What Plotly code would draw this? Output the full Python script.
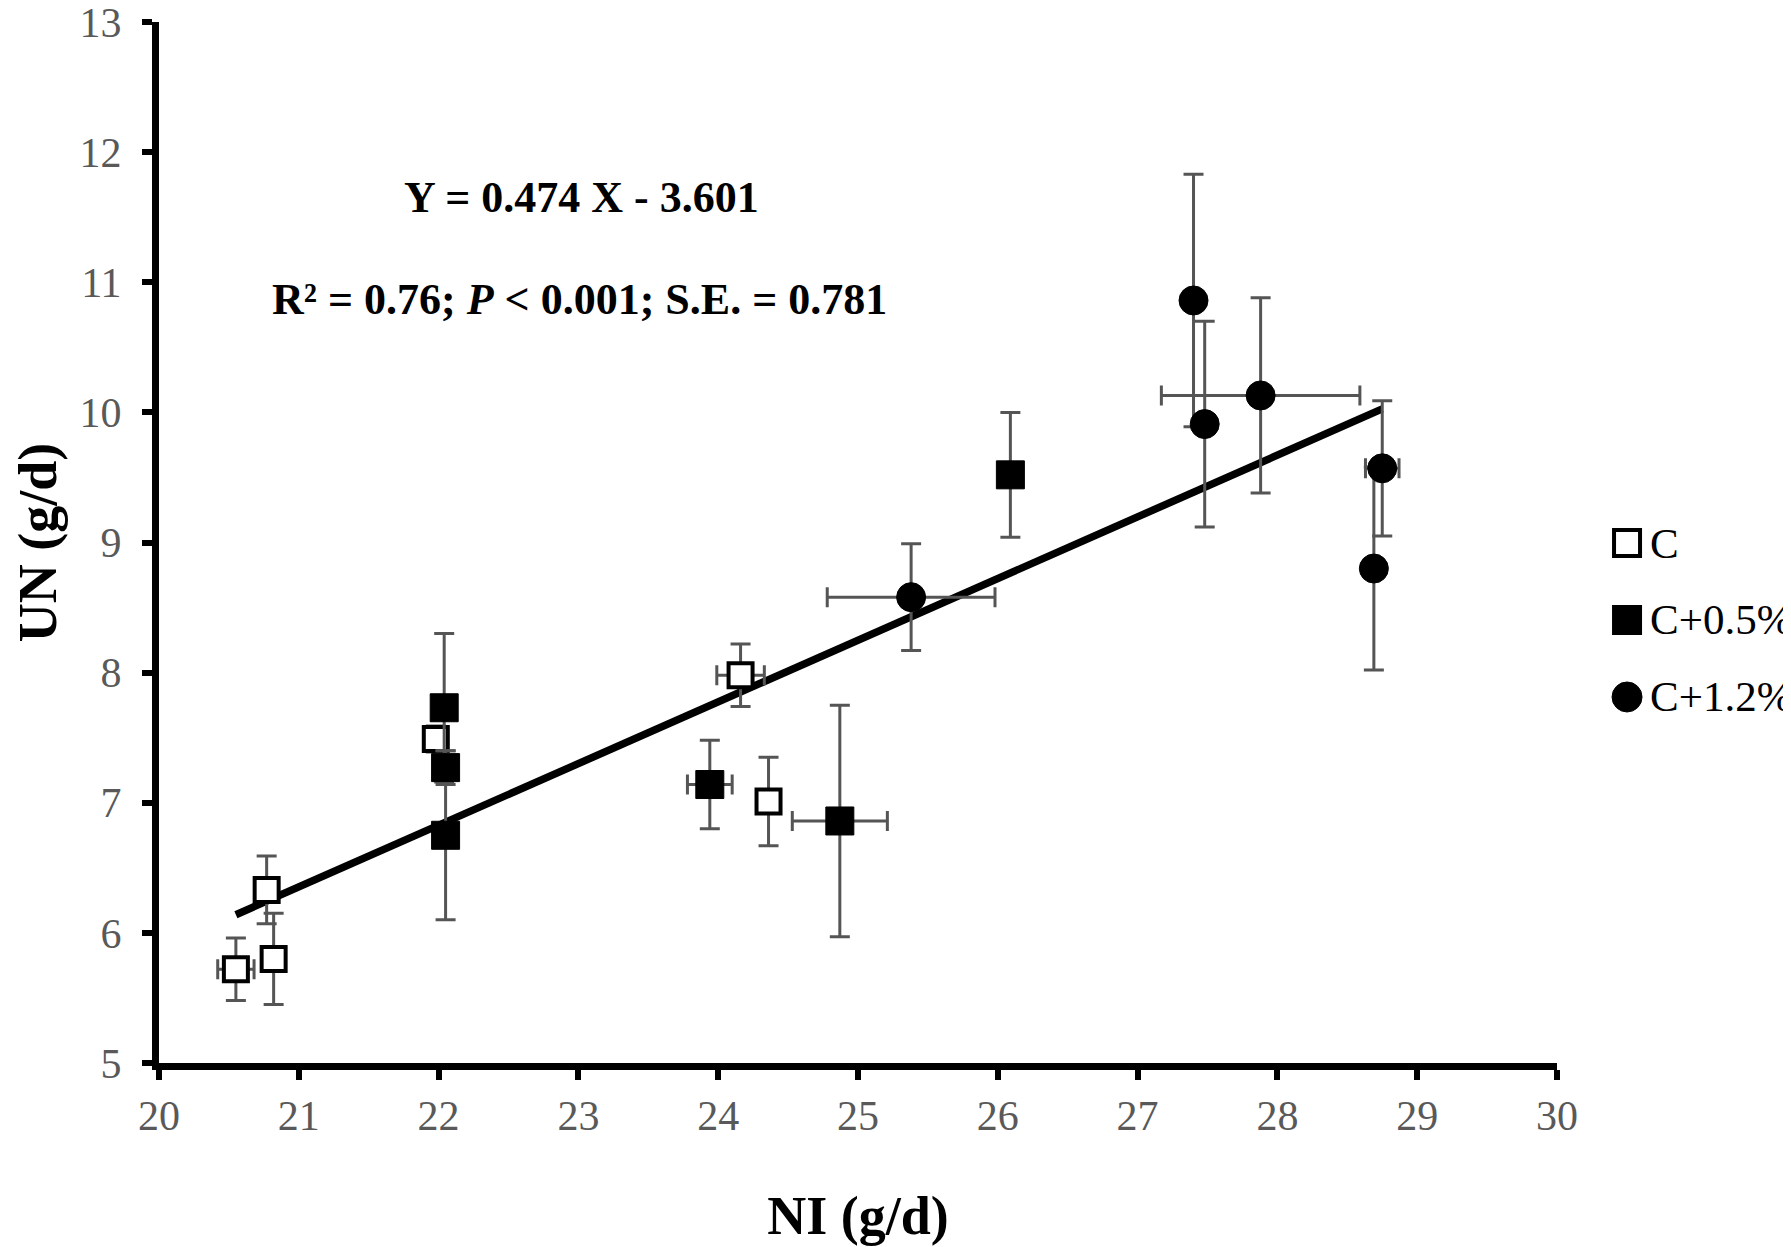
import plotly.graph_objects as go

# NI (g/d) vs UN (g/d), means with SE bars
c_ni = [20.55, 20.82, 20.77, 21.98, 24.16, 24.36]
c_un = [5.72, 5.80, 6.33, 7.49, 7.98, 7.01]
c_ni_err = [0.13, 0.0, 0.0, 0.08, 0.17, 0.0]
c_un_err = [0.24, 0.35, 0.26, 0.10, 0.24, 0.34]

c05_ni = [22.04, 22.05, 22.05, 23.94, 24.87, 26.09]
c05_un = [7.73, 7.27, 6.75, 7.14, 6.86, 9.52]
c05_ni_err = [0.0, 0.0, 0.0, 0.16, 0.34, 0.0]
c05_un_err = [0.57, 0.13, 0.65, 0.34, 0.89, 0.48]

c12_ni = [25.38, 27.40, 27.48, 27.88, 28.75, 28.69]
c12_un = [8.58, 10.86, 9.91, 10.13, 9.57, 8.80]
c12_ni_err = [0.60, 0.0, 0.0, 0.71, 0.12, 0.0]
c12_un_err = [0.41, 0.97, 0.79, 0.75, 0.52, 0.78]

group_names = ["C", "C+0.5%", "C+1.2%"]

slope, intercept = 0.474, -3.601

all_ni = c_ni + c05_ni + c12_ni
fit_x = [min(all_ni), max(all_ni)]
fit_y = [slope * v + intercept for v in fit_x]

FONT = "Liberation Serif"
ERR = "#555555"


def err(vals):
    return dict(type="data", array=vals, visible=True, color=ERR, thickness=3, width=10)


fig = go.Figure()

fig.add_trace(go.Scatter(x=fit_x, y=fit_y, mode="lines", showlegend=False,
                         line=dict(color="black", width=7.5), hoverinfo="skip"))

fig.add_trace(go.Scatter(x=c_ni, y=c_un, mode="markers", name=group_names[0],
                         error_x=err(c_ni_err), error_y=err(c_un_err),
                         marker=dict(symbol="square", size=24, color="white",
                                     line=dict(color="black", width=4))))
fig.add_trace(go.Scatter(x=c05_ni, y=c05_un, mode="markers", name=group_names[1],
                         error_x=err(c05_ni_err), error_y=err(c05_un_err),
                         marker=dict(symbol="square", size=28, color="black",
                                     line=dict(color="black", width=1))))
fig.add_trace(go.Scatter(x=c12_ni, y=c12_un, mode="markers", name=group_names[2],
                         error_x=err(c12_ni_err), error_y=err(c12_un_err),
                         marker=dict(symbol="circle", size=29, color="black",
                                     line=dict(color="black", width=1))))

fig.add_annotation(x=0.302, y=0.831, xref="paper", yref="paper", showarrow=False,
                   xanchor="center", yanchor="middle",
                   text="<b>Y = 0.474 X - 3.601</b>",
                   font=dict(family=FONT, size=44, color="black"))
fig.add_annotation(x=0.301, y=0.733, xref="paper", yref="paper", showarrow=False,
                   xanchor="center", yanchor="middle",
                   text="<b>R² = 0.76; <i>P</i> < 0.001; S.E. = 0.781</b>",
                   font=dict(family=FONT, size=44, color="black"))

# legend drawn by hand so the symbols can be as large as in the original
legend_rows = [0.4995, 0.4256, 0.3516]
legend_x = 1.0501
for i, (name, ly) in enumerate(zip(group_names, legend_rows)):
    if i < 2:
        fig.add_shape(type="rect", xref="paper", yref="paper",
                      xsizemode="pixel", ysizemode="pixel",
                      xanchor=legend_x, yanchor=ly,
                      x0=-13, x1=13, y0=-13, y1=13,
                      fillcolor="white" if i == 0 else "black",
                      line=dict(color="black", width=4))
    else:
        fig.add_shape(type="circle", xref="paper", yref="paper",
                      xsizemode="pixel", ysizemode="pixel",
                      xanchor=legend_x, yanchor=ly,
                      x0=-15, x1=15, y0=-15, y1=15,
                      fillcolor="black", line=dict(color="black", width=1))
    fig.add_annotation(x=1.0651, y=ly, xref="paper", yref="paper", showarrow=False,
                       xanchor="left", yanchor="middle", text=name,
                       font=dict(family=FONT, size=43, color="black"))

axis_common = dict(showline=True, linecolor="black", linewidth=7, showgrid=False,
                   zeroline=False, ticks="outside", ticklen=10, tickwidth=6,
                   tickcolor="black", automargin=False, ticklabeloverflow="allow",
                   tickfont=dict(family=FONT, size=42, color="#595959"))

fig.update_layout(
    width=1791, height=1247,
    paper_bgcolor="white", plot_bgcolor="white",
    margin=dict(l=151, r=242, t=14, b=192),
    font=dict(family=FONT, color="black"),
    showlegend=False,
    xaxis=dict(range=[20, 30], dtick=1, title=dict(text="<b>NI (g/d)</b>", standoff=60,
               font=dict(family=FONT, size=54, color="black")), **axis_common),
    yaxis=dict(range=[5, 13], dtick=1, ticklabelstandoff=12,
               title=dict(text="<b>UN (g/d)</b>", standoff=66,
                          font=dict(family=FONT, size=54, color="black")), **axis_common),
)

fig.write_html("out.html")
